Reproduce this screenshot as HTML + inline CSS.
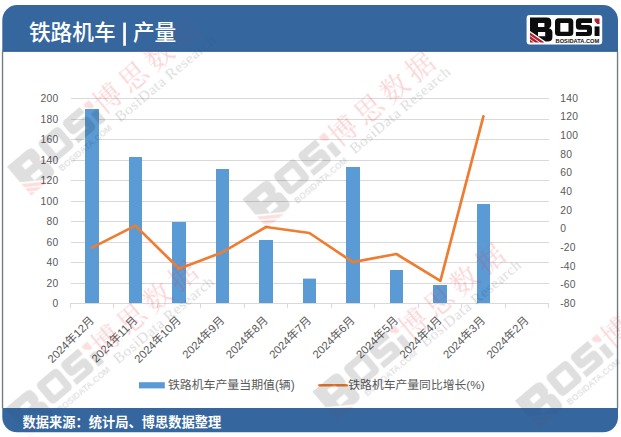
<!DOCTYPE html><html lang="zh"><head><meta charset="utf-8"><title>铁路机车 | 产量</title><style>html,body{margin:0;padding:0;background:#fff}body{position:relative;width:621px;height:437px;overflow:hidden;font-family:"Liberation Sans",sans-serif}.t{position:absolute;color:transparent;white-space:nowrap;line-height:1.2;pointer-events:none}</style></head><body><svg width="621" height="437" viewBox="0 0 621 437" style="position:absolute;left:0;top:0;font-family:'Liberation Sans',sans-serif"><path d="M2.30 20.00 A15 15 0 0 1 17.30 5.00 L603.00 5.00 A15 15 0 0 1 618.00 20.00 L618.00 417.30 A15 15 0 0 1 603.00 432.30 L17.30 432.30 A15 15 0 0 1 2.30 417.30 Z" fill="#35679e"/><rect x="1.30" y="51.60" width="617.70" height="356.40" fill="#fff"/><rect x="1.85" y="51.60" width="1.35" height="356.40" fill="#707b80"/><rect x="616.85" y="51.60" width="1.35" height="356.40" fill="#707b80"/><rect x="2.30" y="50.60" width="615.70" height="1" fill="#2c5a8c"/><text x="28.9" y="39.9" font-size="21.7" font-weight="500" fill="#fff" font-family="'Liberation Sans','Noto Sans CJK SC',sans-serif">铁路机车</text><rect x="123.2" y="22.6" width="2.7" height="23.2" fill="#fff"/><text x="132.9" y="39.9" font-size="21.7" font-weight="500" fill="#fff" font-family="'Liberation Sans','Noto Sans CJK SC',sans-serif">产量</text><rect x="526.6" y="15.0" width="75.6" height="29.6" rx="3" ry="3" fill="#fff"/><g transform="translate(530 17.6)"><path fill="#0c0c0c" fill-rule="evenodd" d="M0 0H16.5Q21.2 0 21.2 4.2V7.2Q21.2 9.6 19 10.6Q22.4 11.6 22.4 14.6V19.6Q22.4 24 17.6 24H15.6L0 13.3ZM8 5.3H14.4V9.3H8ZM8 14.5H15.2V18.6H8Z"/><path fill="#b01f2e" d="M0 14.8L14.6 24.8H10.5L0 17.6ZM0 18.5L9.2 24.8H5.1L0 21.3ZM0 22.2L3.8 24.8H0Z"/><path fill="#0c0c0c" fill-rule="evenodd" d="M28.5 0.6H39.8Q43.3 0.6 43.3 4.1V14.9Q43.3 18.4 39.8 18.4H28.5Q25 18.4 25 14.9V4.1Q25 0.6 28.5 0.6ZM30.3 5.4H38.5V14.1H30.3Z"/><path fill="#0c0c0c" d="M49.4 0.6H62V5.3H51.3V7.4H58.5Q62 7.4 62 10.9V14.9Q62 18.4 58.5 18.4H45.9V14.3H56.9V12.2H49.4Q45.9 12.2 45.9 8.7V4.1Q45.9 0.6 49.4 0.6Z"/><rect fill="#0c0c0c" x="64.6" y="8.8" width="4.9" height="9.6"/><path fill="#b01f2e" d="M64.6 1H69.5V6.4H67.2L64.6 3.4Z"/><text x="25.6" y="25.3" font-size="5.5" font-weight="bold" fill="#111" textLength="43.6" lengthAdjust="spacingAndGlyphs">BOSIDATA.COM</text></g><line x1="71.00" y1="98.50" x2="549.00" y2="98.50" stroke="#d9d9d9" stroke-width="1"/><line x1="71.00" y1="119.50" x2="549.00" y2="119.50" stroke="#d9d9d9" stroke-width="1"/><line x1="71.00" y1="139.50" x2="549.00" y2="139.50" stroke="#d9d9d9" stroke-width="1"/><line x1="71.00" y1="160.50" x2="549.00" y2="160.50" stroke="#d9d9d9" stroke-width="1"/><line x1="71.00" y1="180.50" x2="549.00" y2="180.50" stroke="#d9d9d9" stroke-width="1"/><line x1="71.00" y1="201.50" x2="549.00" y2="201.50" stroke="#d9d9d9" stroke-width="1"/><line x1="71.00" y1="221.50" x2="549.00" y2="221.50" stroke="#d9d9d9" stroke-width="1"/><line x1="71.00" y1="242.50" x2="549.00" y2="242.50" stroke="#d9d9d9" stroke-width="1"/><line x1="71.00" y1="262.50" x2="549.00" y2="262.50" stroke="#d9d9d9" stroke-width="1"/><line x1="71.00" y1="283.50" x2="549.00" y2="283.50" stroke="#d9d9d9" stroke-width="1"/><rect x="85.00" y="109.00" width="14.00" height="194.60" fill="#5b9bd5"/><rect x="129.00" y="157.00" width="13.00" height="146.60" fill="#5b9bd5"/><rect x="172.00" y="222.00" width="14.00" height="81.60" fill="#5b9bd5"/><rect x="216.00" y="169.00" width="13.00" height="134.60" fill="#5b9bd5"/><rect x="259.00" y="240.00" width="14.00" height="63.60" fill="#5b9bd5"/><rect x="303.00" y="278.60" width="13.00" height="25.00" fill="#5b9bd5"/><rect x="346.00" y="167.00" width="14.00" height="136.60" fill="#5b9bd5"/><rect x="390.00" y="270.00" width="13.00" height="33.60" fill="#5b9bd5"/><rect x="433.00" y="285.00" width="14.00" height="18.60" fill="#5b9bd5"/><rect x="477.00" y="204.00" width="13.00" height="99.60" fill="#5b9bd5"/><line x1="70.00" y1="303.50" x2="549.00" y2="303.50" stroke="#d9d9d9" stroke-width="1"/><line x1="70.50" y1="303.00" x2="70.50" y2="308.00" stroke="#d9d9d9" stroke-width="1"/><line x1="113.50" y1="303.00" x2="113.50" y2="308.00" stroke="#d9d9d9" stroke-width="1"/><line x1="157.50" y1="303.00" x2="157.50" y2="308.00" stroke="#d9d9d9" stroke-width="1"/><line x1="200.50" y1="303.00" x2="200.50" y2="308.00" stroke="#d9d9d9" stroke-width="1"/><line x1="244.50" y1="303.00" x2="244.50" y2="308.00" stroke="#d9d9d9" stroke-width="1"/><line x1="287.50" y1="303.00" x2="287.50" y2="308.00" stroke="#d9d9d9" stroke-width="1"/><line x1="331.50" y1="303.00" x2="331.50" y2="308.00" stroke="#d9d9d9" stroke-width="1"/><line x1="374.50" y1="303.00" x2="374.50" y2="308.00" stroke="#d9d9d9" stroke-width="1"/><line x1="418.50" y1="303.00" x2="418.50" y2="308.00" stroke="#d9d9d9" stroke-width="1"/><line x1="461.50" y1="303.00" x2="461.50" y2="308.00" stroke="#d9d9d9" stroke-width="1"/><line x1="505.50" y1="303.00" x2="505.50" y2="308.00" stroke="#d9d9d9" stroke-width="1"/><line x1="548.50" y1="303.00" x2="548.50" y2="308.00" stroke="#d9d9d9" stroke-width="1"/><polyline fill="none" stroke="#ed7d31" stroke-width="2.7" stroke-linejoin="round" stroke-linecap="round" points="92.1,247.6 135.4,225.6 179.2,268.8 222.6,252.2 266.0,227.0 309.4,233.0 352.9,262.2 396.4,254.0 440.4,280.9 483.4,116.4"/><g font-size="10.3" fill="#595959" letter-spacing="0.25"><text x="58.4" y="101.95" text-anchor="end">200</text><text x="58.4" y="122.95" text-anchor="end">180</text><text x="58.4" y="143.15" text-anchor="end">160</text><text x="58.4" y="163.95" text-anchor="end">140</text><text x="58.4" y="184.05" text-anchor="end">120</text><text x="58.4" y="205.05" text-anchor="end">100</text><text x="58.4" y="225.05" text-anchor="end">80</text><text x="58.4" y="245.85" text-anchor="end">60</text><text x="58.4" y="266.05" text-anchor="end">40</text><text x="58.4" y="286.95" text-anchor="end">20</text><text x="58.4" y="306.95" text-anchor="end">0</text><text x="560.2" y="101.85">140</text><text x="560.2" y="120.49">120</text><text x="560.2" y="139.12">100</text><text x="560.2" y="157.76">80</text><text x="560.2" y="176.40">60</text><text x="560.2" y="195.03">40</text><text x="560.2" y="213.67">20</text><text x="560.2" y="232.30">0</text><text x="560.2" y="250.94">-20</text><text x="560.2" y="269.58">-40</text><text x="560.2" y="288.21">-60</text><text x="560.2" y="306.85">-80</text></g><g fill="#595959" font-size="11.3" text-anchor="end" font-family="'Liberation Sans','Noto Sans CJK SC',sans-serif"><text x="0" y="0" transform="translate(94.83 321.10) rotate(-45)">2024年12月</text><text x="0" y="0" transform="translate(138.28 321.10) rotate(-45)">2024年11月</text><text x="0" y="0" transform="translate(181.74 321.10) rotate(-45)">2024年10月</text><text x="0" y="0" transform="translate(225.19 321.10) rotate(-45)">2024年9月</text><text x="0" y="0" transform="translate(268.65 321.10) rotate(-45)">2024年8月</text><text x="0" y="0" transform="translate(312.10 321.10) rotate(-45)">2024年7月</text><text x="0" y="0" transform="translate(355.55 321.10) rotate(-45)">2024年6月</text><text x="0" y="0" transform="translate(399.01 321.10) rotate(-45)">2024年5月</text><text x="0" y="0" transform="translate(442.46 321.10) rotate(-45)">2024年4月</text><text x="0" y="0" transform="translate(485.92 321.10) rotate(-45)">2024年3月</text><text x="0" y="0" transform="translate(529.37 321.10) rotate(-45)">2024年2月</text></g><rect x="139" y="382.2" width="25.8" height="6.2" fill="#5b9bd5"/><text x="167.9" y="389.4" font-size="11.9" fill="#595959" font-family="'Liberation Sans','Noto Sans CJK SC',sans-serif">铁路机车产量当期值(辆)</text><line x1="319.4" y1="385.2" x2="346.6" y2="385.2" stroke="#ed7d31" stroke-width="2.6" stroke-linecap="round"/><text x="348.3" y="389.4" font-size="11.8" fill="#595959" font-family="'Liberation Sans','Noto Sans CJK SC',sans-serif">铁路机车产量同比增长(%)</text><text x="22.6" y="426.9" font-size="13.25" font-weight="bold" fill="#fff" font-family="'Liberation Sans','Noto Sans CJK SC',sans-serif">数据来源：统计局、博思数据整理</text><defs><filter id="bl" x="-5%" y="-20%" width="110%" height="140%"><feGaussianBlur stdDeviation="0.45"/></filter><g id="wm" filter="url(#bl)"><g transform="translate(-2.9 1.1) scale(1.52)" opacity="0.125"><path fill="#000" fill-rule="evenodd" d="M0 0H16.5Q21.2 0 21.2 4.2V7.2Q21.2 9.6 19 10.6Q22.4 11.6 22.4 14.6V19.6Q22.4 24 17.6 24H15.6L0 13.3ZM8 5.3H14.4V9.3H8ZM8 14.5H15.2V18.6H8Z"/><path fill="#e00010" d="M0 14.8L14.6 24.8H10.5L0 17.6ZM0 18.5L9.2 24.8H5.1L0 21.3ZM0 22.2L3.8 24.8H0Z"/><path fill="#000" fill-rule="evenodd" d="M28.5 0.6H39.8Q43.3 0.6 43.3 4.1V14.9Q43.3 18.4 39.8 18.4H28.5Q25 18.4 25 14.9V4.1Q25 0.6 28.5 0.6ZM30.3 5.4H38.5V14.1H30.3Z"/><path fill="#000" d="M49.4 0.6H62V5.3H51.3V7.4H58.5Q62 7.4 62 10.9V14.9Q62 18.4 58.5 18.4H45.9V14.3H56.9V12.2H49.4Q45.9 12.2 45.9 8.7V4.1Q45.9 0.6 49.4 0.6Z"/><rect fill="#000" x="64.6" y="8.8" width="4.9" height="9.6"/><path fill="#e00010" d="M64.6 1H69.5V6.4H67.2L64.6 3.4Z"/><text x="25.6" y="25.3" font-size="5.5" font-weight="bold" fill="#000" textLength="43.6" lengthAdjust="spacingAndGlyphs">BOSIDATA.COM</text></g><text x="104.4" y="23.9" font-size="28" letter-spacing="5.3" fill="#e8303a" opacity="0.2" font-family="'Liberation Serif','Noto Serif CJK SC',serif">博思数据</text><text x="112" y="39.5" font-family="Liberation Serif, serif" font-size="15.5" fill="#000" opacity="0.15" textLength="126" lengthAdjust="spacing">BosiData Research</text></g></defs><defs><clipPath id="cb"><rect x="0" y="51.60" width="621" height="356.40"/></clipPath><clipPath id="ch"><rect x="0" y="0" width="621" height="51.60"/><rect x="0" y="408.00" width="621" height="40"/></clipPath></defs><g clip-path="url(#cb)"><use href="#wm" transform="translate(244.07 196.57) rotate(-40)"/><use href="#wm" transform="translate(8.57 164.07) rotate(-40)"/><use href="#wm" transform="translate(6.87 405.77) rotate(-40)"/><use href="#wm" transform="translate(314.07 389.07) rotate(-40)"/><use href="#wm" transform="translate(516.57 398.07) rotate(-40)"/></g><g clip-path="url(#ch)" opacity="0.3"><use href="#wm" transform="translate(244.07 196.57) rotate(-40)"/><use href="#wm" transform="translate(8.57 164.07) rotate(-40)"/><use href="#wm" transform="translate(6.87 405.77) rotate(-40)"/><use href="#wm" transform="translate(314.07 389.07) rotate(-40)"/><use href="#wm" transform="translate(516.57 398.07) rotate(-40)"/></g></svg><div class="t" style="left:29px;top:20px;font-size:21px">铁路机车 | 产量</div><div class="t" style="left:168px;top:378px;font-size:12px">铁路机车产量当期值(辆)</div><div class="t" style="left:349px;top:378px;font-size:12px">铁路机车产量同比增长(%)</div><div class="t" style="left:22px;top:413px;font-size:13px">数据来源：统计局、博思数据整理</div><div class="t" style="left:60px;top:330px;font-size:11px">2024年12月</div><div class="t" style="left:103px;top:330px;font-size:11px">2024年11月</div><div class="t" style="left:146px;top:330px;font-size:11px">2024年10月</div><div class="t" style="left:189px;top:330px;font-size:11px">2024年9月</div><div class="t" style="left:232px;top:330px;font-size:11px">2024年8月</div><div class="t" style="left:275px;top:330px;font-size:11px">2024年7月</div><div class="t" style="left:318px;top:330px;font-size:11px">2024年6月</div><div class="t" style="left:361px;top:330px;font-size:11px">2024年5月</div><div class="t" style="left:404px;top:330px;font-size:11px">2024年4月</div><div class="t" style="left:447px;top:330px;font-size:11px">2024年3月</div><div class="t" style="left:490px;top:330px;font-size:11px">2024年2月</div></body></html>
